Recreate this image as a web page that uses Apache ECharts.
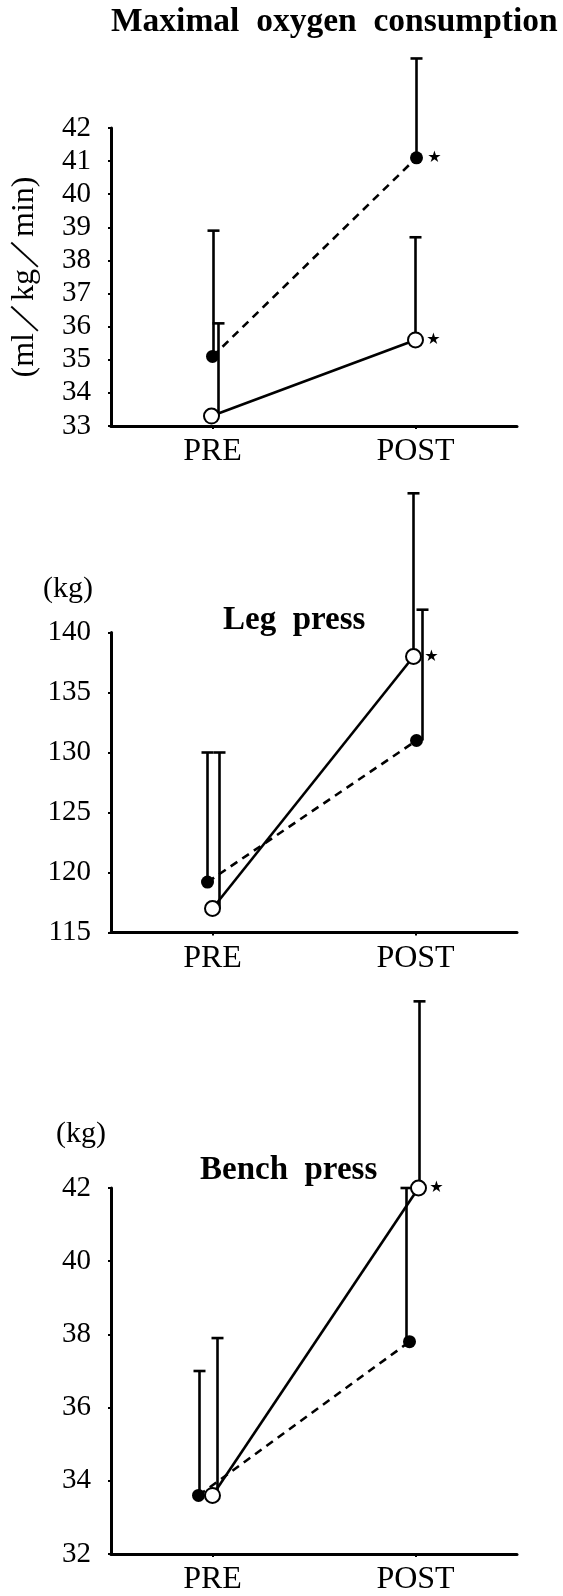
<!DOCTYPE html>
<html>
<head>
<meta charset="utf-8">
<script src="https://cdn.jsdelivr.net/npm/echarts@6/dist/echarts.min.js"></script>
<style>
html, body { margin: 0; padding: 0; background: #fff; }
#chart { width: 563px; height: 1596px; }
</style>
</head>
<body>
<div id="chart"></div>
<script>
const categories = ['PRE', 'POST'];

// Maximal oxygen consumption (ml/kg/min)
const vo2Ticks = [33, 34, 35, 36, 37, 38, 39, 40, 41, 42];
const vo2FilledMean = [35.1, 41.1];
const vo2FilledSd = [3.8, 3.0];
const vo2OpenMean = [33.3, 35.6];
const vo2OpenSd = [2.8, 3.1];
const vo2FilledSig = ['', '★'];
const vo2OpenSig = ['', '★'];

// Leg press (kg)
const legTicks = [115, 120, 125, 130, 135, 140];
const legFilledMean = [119.2, 131.0];
const legFilledSd = [10.8, 10.9];
const legOpenMean = [117.0, 138.0];
const legOpenSd = [13.0, 13.6];
const legFilledSig = ['', ''];
const legOpenSig = ['', '★'];

// Bench press (kg)
const benchTicks = [32, 34, 36, 38, 40, 42];
const benchFilledMean = [33.6, 37.8];
const benchFilledSd = [3.4, 4.2];
const benchOpenMean = [33.6, 42.0];
const benchOpenSd = [4.3, 5.1];
const benchFilledSig = ['', ''];
const benchOpenSig = ['', '★'];

// small pixel shifts so the two groups don't sit on top of each other
const dodge = {
  vo2: { filled: { mark: [0, 1], bar: [1, 1] }, open: { mark: [-1, 0], bar: [6, 0] } },
  leg: { filled: { mark: [-5, 1], bar: [-5, 7] }, open: { mark: [0, -2], bar: [7, -2] } },
  bench: { filled: { mark: [-14, -6], bar: [-13, -9] }, open: { mark: [0, 3], bar: [5, 4] } }
};

const serif = 'Liberation Serif';
const black = '#000';

function groupSeries(idx, means, sds, sig, off, filled) {
  let lineSeries = {
    type: 'custom',
    xAxisIndex: idx,
    yAxisIndex: idx,
    z: 2,
    silent: true,
    data: means.map((m, i) => [i, m]),
    renderItem(params, api) {
      if (params.dataIndex !== 0) return null;
      let a = api.coord([0, means[0]]);
      let b = api.coord([1, means[1]]);
      return {
        type: 'line',
        shape: { x1: a[0] + off.mark[0], y1: a[1], x2: b[0] + off.mark[1], y2: b[1] },
        style: { stroke: black, lineWidth: 2.6, lineDash: filled ? [8, 6] : null }
      };
    }
  };
  let markSeries = {
    type: 'custom',
    xAxisIndex: idx,
    yAxisIndex: idx,
    z: filled ? 4 : 5,
    silent: true,
    data: means.map((m, i) => [i, m, sds[i]]),
    renderItem(params, api) {
      let i = params.dataIndex;
      let p = api.coord([i, api.value(1)]);
      let top = api.coord([i, api.value(1) + api.value(2)]);
      let xb = p[0] + off.bar[i];
      let xm = p[0] + off.mark[i];
      let children = [
        { type: 'line', shape: { x1: xb, y1: p[1], x2: xb, y2: top[1] },
          style: { stroke: black, lineWidth: 2.6 } },
        { type: 'line', shape: { x1: xb - 6, y1: top[1], x2: xb + 6, y2: top[1] },
          style: { stroke: black, lineWidth: 2.6 } },
        { type: 'circle', shape: { cx: xm, cy: p[1], r: filled ? 6.5 : 7.5 },
          style: { fill: filled ? black : '#fff', stroke: black, lineWidth: filled ? 0 : 2 } }
      ];
      if (sig[i]) {
        children.push({
          type: 'text', x: xm + 18, y: p[1],
          style: { text: sig[i], fontSize: 16, fontFamily: 'DejaVu Sans', fill: black,
                   align: 'center', verticalAlign: 'middle' }
        });
      }
      return { type: 'group', children };
    }
  };
  return [lineSeries, markSeries];
}

function makeY(idx, ticks, extra) {
  return Object.assign({
    type: 'value',
    gridIndex: idx,
    min: ticks[0],
    max: ticks[ticks.length - 1],
    interval: ticks[1] - ticks[0],
    axisLine: { show: true, lineStyle: { color: black, width: 3 } },
    axisTick: { show: true, length: 3, lineStyle: { color: black, width: 2 } },
    splitLine: { show: false },
    axisLabel: { color: black, fontFamily: serif, fontSize: 29, margin: 20 }
  }, extra || {});
}

function makeX(idx) {
  return {
    type: 'category',
    gridIndex: idx,
    data: categories,
    boundaryGap: true,
    axisLine: { show: true, lineStyle: { color: black, width: 3 } },
    axisTick: { show: true, alignWithLabel: true, length: 3, lineStyle: { color: black, width: 2 } },
    axisLabel: { color: black, fontFamily: serif, fontSize: 32, margin: 10 },
    splitLine: { show: false }
  };
}

function titleAt(text, left, top, size, bold) {
  return {
    text: text,
    left: left,
    top: top,
    padding: 0,
    textStyle: { color: black, fontFamily: serif, fontSize: size,
                 fontWeight: bold ? 'bold' : 'normal', lineHeight: size + 1 }
  };
}

const option = {
  backgroundColor: '#fff',
  animation: false,
  title: [
    titleAt('Maximal  oxygen  consumption', 111, 5, 33.5, true),
    titleAt('Leg  press', 223, 603, 33, true),
    titleAt('Bench  press', 200, 1153, 33, true),
    titleAt('(kg)', 43, 574, 30, false),
    titleAt('(kg)', 56, 1119, 30, false)
  ],
  grid: [
    { left: 111, top: 128, width: 406, height: 298 },
    { left: 111, top: 632.5, width: 406, height: 300 },
    { left: 111, top: 1188, width: 406, height: 366.7 }
  ],
  xAxis: [makeX(0), makeX(1), makeX(2)],
  yAxis: [
    makeY(0, vo2Ticks, {
      name: '(ml／kg／min)',
      nameLocation: 'middle',
      nameGap: 70,
      nameTextStyle: { color: black, fontFamily: serif, fontSize: 32 }
    }),
    makeY(1, legTicks),
    makeY(2, benchTicks)
  ],
  series: [].concat(
    groupSeries(0, vo2FilledMean, vo2FilledSd, vo2FilledSig, dodge.vo2.filled, true),
    groupSeries(0, vo2OpenMean, vo2OpenSd, vo2OpenSig, dodge.vo2.open, false),
    groupSeries(1, legFilledMean, legFilledSd, legFilledSig, dodge.leg.filled, true),
    groupSeries(1, legOpenMean, legOpenSd, legOpenSig, dodge.leg.open, false),
    groupSeries(2, benchFilledMean, benchFilledSd, benchFilledSig, dodge.bench.filled, true),
    groupSeries(2, benchOpenMean, benchOpenSd, benchOpenSig, dodge.bench.open, false)
  )
};

const chart = echarts.init(document.getElementById('chart'));
chart.setOption(option);
window.addEventListener('resize', chart.resize, false);
</script>
</body>
</html>
